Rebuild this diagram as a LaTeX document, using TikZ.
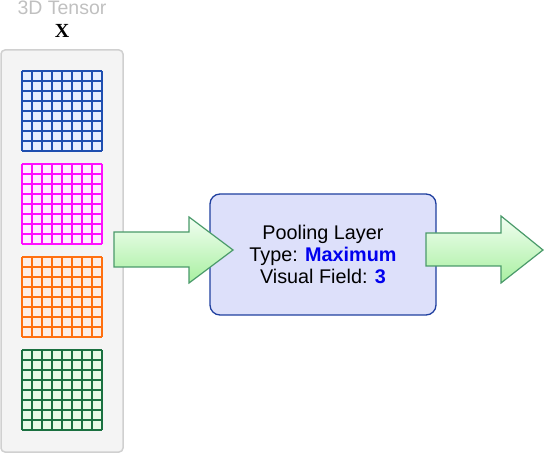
\documentclass[tikz,border=0pt]{standalone}
\usepackage{fontspec}
\setmainfont{Liberation Serif}
\setsansfont{Liberation Sans}
\definecolor{panelfill}{HTML}{F4F4F4}
\definecolor{paneldraw}{HTML}{D0D0D0}
\definecolor{titlegray}{HTML}{C0C0C0}
\definecolor{gblue}{HTML}{1F4FB0}
\definecolor{gbluef}{HTML}{E6EEFF}
\definecolor{gmag}{HTML}{FF10FF}
\definecolor{gmagf}{HTML}{FFF0FF}
\definecolor{gorange}{HTML}{FF7010}
\definecolor{gorangef}{HTML}{FDEEE6}
\definecolor{ggreen}{HTML}{1A7040}
\definecolor{ggreenf}{HTML}{E6FBE6}
\definecolor{boxfill}{HTML}{DDE0FA}
\definecolor{boxdraw}{HTML}{1F3F9F}
\definecolor{arrdraw}{HTML}{4A9A6A}
\definecolor{arrlight}{HTML}{F2FEF2}
\definecolor{arrdark}{HTML}{A8F0A0}
\definecolor{valblue}{HTML}{0000EE}
\begin{document}
\begin{tikzpicture}[x=1pt,y=1pt,
  poolbox/.style={draw=boxdraw, fill=boxfill, line width=1.3pt, rounded corners=10pt,
    minimum width=226pt, minimum height=121pt, align=center,
    font=\sffamily\fontsize{19.8}{22}\selectfont},
  blockarrow/.style={draw=arrdraw, line width=1.2pt, shading angle=135,
    top color=arrlight, bottom color=arrdark, line join=miter},
  gridlines/.style={line width=1.3pt}
]
% y axis upward: coordinates below use (x, 453 - ypx)
\useasboundingbox (0,0) rectangle (544,453);
% title
\node[anchor=base, text=titlegray, font=\sffamily\fontsize{19.5}{22}\selectfont] (title) at (62,438) {3D Tensor};
\node[anchor=base, font=\bfseries\fontsize{20}{22}\selectfont] (xlabel) at (62,415.5) {X};
% panel
\draw[rounded corners=4pt, fill=panelfill, draw=paneldraw, line width=1.5pt] (1,1) rectangle (123,403);
% grids (bottom-left corners)
\foreach \yy/\lc/\fc in {302/gblue/gbluef, 209/gmag/gmagf, 116/gorange/gorangef, 23/ggreen/ggreenf}{
  \fill[\fc] (22,\yy) rectangle ++(80,80);
  \draw[gridlines, draw=\lc, shift={(22,\yy)}] (0,0) grid[step=10] (80,80);
}
% pooling box
\node[poolbox] (pool) at (323,198.5) {Pooling Layer\\Type: \textcolor{valblue}{\bfseries Maximum}\\Visual Field: \textcolor{valblue}{\bfseries 3}};
% arrows
\draw[blockarrow] (114,221) -- (189,221) -- (189,236) -- (233,203) -- (189,170) -- (189,186) -- (114,186) -- cycle;
\draw[blockarrow] (426,220) -- (501,220) -- (501,237) -- (543,203) -- (501,170) -- (501,187) -- (426,187) -- cycle;
\end{tikzpicture}
\end{document}
